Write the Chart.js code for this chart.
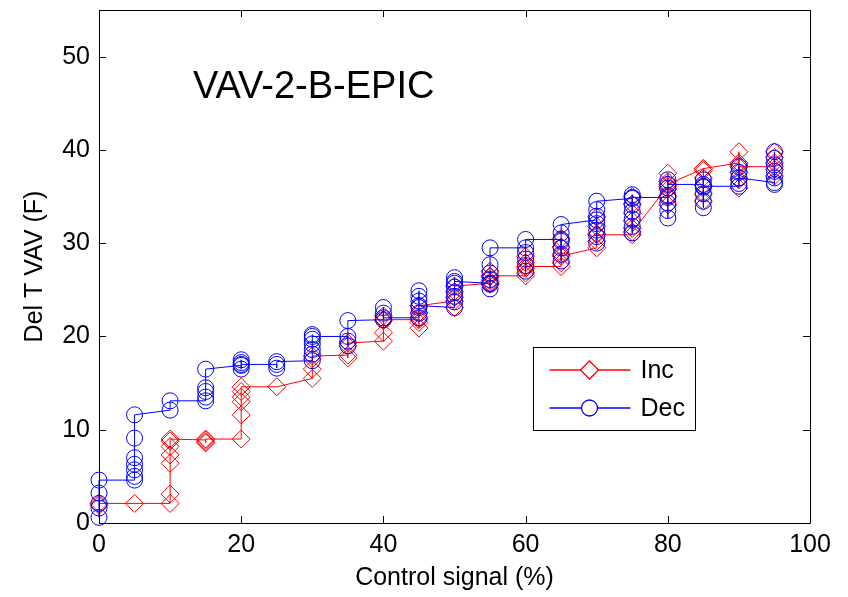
<!DOCTYPE html>
<html>
<head>
<meta charset="utf-8">
<script src="https://cdn.jsdelivr.net/npm/chart.js@4/dist/chart.umd.min.js"></script>
<style>
  html, body { margin: 0; padding: 0; background: #fff; }
  #wrap { width: 848px; height: 597px; position: relative; }
</style>
</head>
<body>
<div id="wrap"><canvas id="vavChart" width="848" height="597"></canvas></div>
<script>
// du lieu doc tu hinh: moi muc la cac lan doc tai mot muc tin hieu dieu khien
const controlSignal = [0, 5, 10, 15, 20, 25, 30, 35, 40, 45, 50, 55, 60, 65, 70, 75, 80, 85, 90, 95];

const incReadings = [
    [1.9, 2.1],
    [2.1],
    [2.1, 3.1, 6.4, 7.3, 8.2, 8.8, 9.0],
    [8.9, 8.6, 8.7, 9.0],
    [9.0, 11.6, 13.0, 13.5, 14.1, 14.6],
    [14.6],
    [15.5, 16.5, 17.6, 17.9],
    [18.0, 17.7, 19.0, 19.3],
    [19.5, 20.4, 21.7, 22.2, 21.8],
    [21.8, 20.9, 21.5, 22.0, 22.5, 23.3],
    [23.8, 23.1, 24.2, 24.8, 25.4],
    [25.7, 25.6, 25.9, 26.4, 27.0, 26.5],
    [26.5, 26.8, 27.3, 27.9, 28.6, 27.5],
    [27.5, 27.9, 28.8, 29.6, 30.5, 28.6],
    [29.5, 30.2, 31.0, 31.8, 32.8, 30.9],
    [30.9, 31.6, 32.4, 33.2, 34.2, 35.0, 31.2],
    [36.1, 34.1, 35.0, 35.8, 36.6, 37.5, 36.3],
    [38.0, 34.5, 35.3, 36.2, 37.0, 37.8, 38.0],
    [38.6, 35.9, 36.8, 37.6, 38.4, 39.8, 38.2],
    [38.2, 37.2, 37.9, 38.6, 39.2, 39.8]
];

const decReadings = [
    [0.6, 1.6, 2.1, 3.2, 4.6],
    [4.6, 5.0, 5.7, 6.3, 7.0, 9.1, 11.6],
    [12.1, 13.1],
    [13.1, 13.5, 14.1, 14.5, 16.5],
    [16.9, 17.2, 17.5, 16.5, 17.0],
    [17.0, 16.6, 17.3],
    [17.4, 18.1, 18.6, 19.2, 19.7, 20.2, 20.0],
    [20.0, 19.0, 19.5, 21.7],
    [21.8, 22.5, 23.1, 22.0],
    [22.0, 22.5, 23.1, 23.8, 24.3, 24.9, 23.3],
    [23.1, 23.7, 24.3, 24.7, 25.3, 25.7, 26.3, 25.9],
    [25.7, 25.1, 25.6, 26.1, 26.8, 27.7, 29.5],
    [29.5, 27.0, 27.6, 28.3, 29.0, 30.4],
    [30.4, 28.1, 28.8, 29.5, 30.2, 31.1, 32.0],
    [32.5, 30.0, 30.7, 31.4, 32.1, 32.9, 33.6, 34.5],
    [34.8, 31.1, 31.8, 32.6, 33.4, 34.1, 35.2, 34.9],
    [34.9, 32.7, 33.5, 34.3, 35.1, 35.9, 36.8, 36.3],
    [36.3, 33.8, 34.5, 35.3, 36.0, 36.8, 36.1],
    [36.1, 36.4, 37.0, 37.6, 38.2, 37.0],
    [36.5, 36.3, 37.0, 37.7, 38.4, 39.1, 39.8]
];

const xTicks = [0, 20, 40, 60, 80, 100];
const yTicks = [0, 10, 20, 30, 40, 50];
const seriesNames = ['Inc', 'Dec'];
const seriesColors = ['#ff0000', '#0000ff'];
const plotTitle = 'VAV-2-B-EPIC';

const FONT = '"Liberation Sans", Arial, sans-serif';

// chuyen cac lan doc thanh diem {x, y} theo dung thu tu
function toPoints(readings) {
    return readings.flatMap((vals, i) => vals.map(v => ({ x: controlSignal[i], y: v })));
}

// plugin ve khung, vach chia huong vao trong, tieu de va chu thich kieu MATLAB
const matlabFrame = {
    id: 'matlabFrame',
    afterDatasetsDraw(chart) {
        const { ctx, chartArea: a, scales } = chart;
        ctx.save();
        ctx.strokeStyle = '#000';
        ctx.lineWidth = 1;
        ctx.beginPath();
        ctx.rect(Math.round(a.left) + 0.5, Math.round(a.top) + 0.5, Math.round(a.right - a.left), Math.round(a.bottom - a.top));
        ctx.stroke();

        const tl = 7;
        ctx.beginPath();
        xTicks.forEach(v => {
            const px = Math.round(scales.x.getPixelForValue(v)) + 0.5;
            ctx.moveTo(px, a.bottom); ctx.lineTo(px, a.bottom - tl);
            ctx.moveTo(px, a.top); ctx.lineTo(px, a.top + tl);
        });
        yTicks.forEach(v => {
            const py = Math.round(scales.y.getPixelForValue(v)) + 0.5;
            ctx.moveTo(a.left, py); ctx.lineTo(a.left + tl, py);
            ctx.moveTo(a.right, py); ctx.lineTo(a.right - tl, py);
        });
        ctx.stroke();

        // tieu de ben trong vung ve
        ctx.fillStyle = '#000';
        ctx.font = '38px ' + FONT;
        ctx.textAlign = 'left';
        ctx.textBaseline = 'middle';
        ctx.fillText(plotTitle, a.left + 94, a.top + 78);

        // khung chu thich
        const bx = 533.5, by = 347.5, bw = 162, bh = 83;
        ctx.fillStyle = '#fff';
        ctx.fillRect(bx, by, bw, bh);
        ctx.strokeStyle = '#000';
        ctx.strokeRect(bx, by, bw, bh);

        chart.data.datasets.forEach((ds, i) => {
            const ly = 370 + i * 38;
            const col = seriesColors[i];
            ctx.strokeStyle = col;
            ctx.lineWidth = 1.3;
            ctx.beginPath();
            ctx.moveTo(bx + 16, ly); ctx.lineTo(bx + 97, ly);
            ctx.stroke();
            const mx = bx + 56, r = ds.pointRadius;
            ctx.beginPath();
            if (ds.pointStyle === 'rectRot') {
                ctx.moveTo(mx - r, ly); ctx.lineTo(mx, ly - r);
                ctx.lineTo(mx + r, ly); ctx.lineTo(mx, ly + r);
                ctx.closePath();
            } else {
                ctx.arc(mx, ly, r, 0, Math.PI * 2);
            }
            ctx.fillStyle = '#fff';
            ctx.fill();
            ctx.strokeStyle = col;
            ctx.stroke();
            ctx.fillStyle = '#000';
            ctx.font = '25px ' + FONT;
            ctx.textAlign = 'left';
            ctx.textBaseline = 'middle';
            ctx.fillText(ds.label, bx + 107, ly + 1);
        });
        ctx.restore();
    }
};

const ctx = document.getElementById('vavChart').getContext('2d');

new Chart(ctx, {
    type: 'line',
    data: {
        datasets: [
            {
                label: seriesNames[0],
                data: toPoints(incReadings),
                borderColor: seriesColors[0],
                backgroundColor: 'rgba(0,0,0,0)',
                borderWidth: 1,
                pointStyle: 'rectRot',
                pointRadius: 9,
                pointBorderWidth: 1,
                pointBorderColor: seriesColors[0],
                pointBackgroundColor: 'rgba(0,0,0,0)',
                tension: 0,
                clip: false,
                order: 2
            },
            {
                label: seriesNames[1],
                data: toPoints(decReadings),
                borderColor: seriesColors[1],
                backgroundColor: 'rgba(0,0,0,0)',
                borderWidth: 1,
                pointStyle: 'circle',
                pointRadius: 8,
                pointBorderWidth: 1,
                pointBorderColor: seriesColors[1],
                pointBackgroundColor: 'rgba(0,0,0,0)',
                tension: 0,
                clip: false,
                order: 1
            }
        ]
    },
    options: {
        responsive: false,
        animation: false,
        events: [],
        layout: { padding: { top: 6, right: 38, bottom: 0, left: 0 } },
        scales: {
            x: {
                type: 'linear',
                min: 0,
                max: 100,
                afterFit: s => { s.height = 74; s.paddingLeft = 0; s.paddingRight = 0; },
                afterBuildTicks: s => { s.ticks = xTicks.map(v => ({ value: v })); },
                grid: { display: false, drawTicks: false },
                border: { display: false },
                ticks: { color: '#000', padding: 7, maxRotation: 0, font: { family: FONT, size: 25 } },
                title: { display: true, text: 'Control signal (%)', color: '#000', padding: { top: 0, bottom: 4 }, font: { family: FONT, size: 25 } }
            },
            y: {
                type: 'linear',
                min: 0,
                max: 55,
                afterFit: s => { s.width = 99; s.paddingTop = 0; s.paddingBottom = 0; },
                afterBuildTicks: s => { s.ticks = yTicks.map(v => ({ value: v })); },
                grid: { display: false, drawTicks: false },
                border: { display: false },
                ticks: { color: '#000', padding: 9, font: { family: FONT, size: 25 } },
                title: { display: true, text: 'Del T VAV (F)', color: '#000', padding: { top: 20, bottom: 0 }, font: { family: FONT, size: 25 } }
            }
        },
        plugins: {
            legend: { display: false },
            tooltip: { enabled: false }
        }
    },
    plugins: [matlabFrame]
});
</script>
</body>
</html>
